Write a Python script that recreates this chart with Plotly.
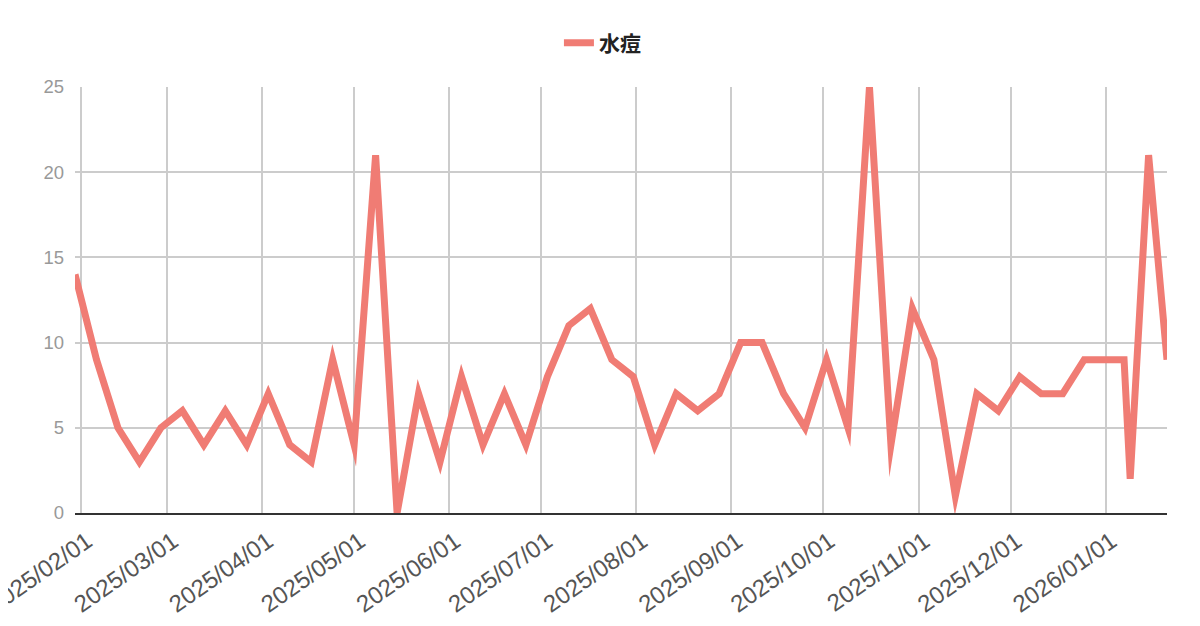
import plotly.graph_objects as go

# weekly report dates (mostly Thursdays) and case counts
dates = [
    "2025-01-30", "2025-02-06", "2025-02-13", "2025-02-20", "2025-02-27",
    "2025-03-06", "2025-03-13", "2025-03-20", "2025-03-27", "2025-04-03",
    "2025-04-10", "2025-04-17", "2025-04-24", "2025-05-01", "2025-05-08",
    "2025-05-15", "2025-05-22", "2025-05-29", "2025-06-05", "2025-06-12",
    "2025-06-19", "2025-06-26", "2025-07-03", "2025-07-10", "2025-07-17",
    "2025-07-24", "2025-07-31", "2025-08-07", "2025-08-14", "2025-08-21",
    "2025-08-28", "2025-09-04", "2025-09-11", "2025-09-18", "2025-09-25",
    "2025-10-02", "2025-10-09", "2025-10-16", "2025-10-23", "2025-10-30",
    "2025-11-06", "2025-11-13", "2025-11-20", "2025-11-27", "2025-12-04",
    "2025-12-11", "2025-12-18", "2025-12-25", "2026-01-01", "2026-01-07",
    "2026-01-09", "2026-01-15", "2026-01-21",
]
cases = [
    14, 9, 5, 3, 5,
    6, 4, 6, 4, 7,
    4, 3, 9, 4, 21,
    0, 7, 3, 8, 4,
    7, 4, 8, 11, 12,
    9, 8, 4, 7, 6,
    7, 10, 10, 7, 5,
    9, 5, 25, 4, 12,
    9, 1, 7, 6, 8,
    7, 7, 9, 9, 9,
    2, 21, 9,
]
series_name = "水痘"

tick_dates = [
    "2025-02-01", "2025-03-01", "2025-04-01", "2025-05-01", "2025-06-01",
    "2025-07-01", "2025-08-01", "2025-09-01", "2025-10-01", "2025-11-01",
    "2025-12-01", "2026-01-01",
]
tick_labels = [d.replace("-", "/") for d in tick_dates]
y_ticks = [0, 5, 10, 15, 20, 25]

LINE = "rgb(240,124,116)"
GRID = "rgb(204,204,204)"

fig = go.Figure()
fig.add_trace(go.Scatter(
    x=dates,
    y=cases,
    mode="lines",
    name=series_name,
    line=dict(color=LINE, width=7),
))

# the page body keeps its default 8px margin, so margins are shifted by that much
fig.update_layout(
    width=1200,
    height=626,
    margin=dict(l=67, r=41, t=79, b=121),
    plot_bgcolor="white",
    paper_bgcolor="white",
    font=dict(family="Liberation Sans, Arial, Noto Sans CJK JP", size=17, color="#666"),
    showlegend=True,
    legend=dict(
        orientation="h",
        x=0.483, xanchor="center",
        y=1.103, yanchor="middle",
        font=dict(family="Noto Sans CJK JP", size=21, color="#222", weight="bold"),
    ),
    xaxis=dict(
        type="date",
        range=[dates[0], dates[-1]],
        tickvals=tick_dates,
        ticktext=tick_labels,
        tickangle=-35,
        automargin=False,
        ticklabeloverflow="allow",
        ticklabelshift=6,
        ticklabelstandoff=3,
        showgrid=True,
        gridcolor=GRID,
        gridwidth=1.5,
        showline=True,
        linecolor="#333",
        linewidth=2,
        ticks="",
        tickfont=dict(size=24, color="#555"),
        zeroline=False,
    ),
    yaxis=dict(
        range=[0, 25],
        tickvals=y_ticks,
        automargin=False,
        showgrid=True,
        gridcolor=GRID,
        gridwidth=1.5,
        zeroline=False,
        ticks="",
        ticklabelstandoff=10,
        tickfont=dict(size=18.5, color="#999"),
    ),
)

# canvas-style miter limit so the sharp peaks come to a point like the original
post = """
var gd = document.getElementById('{plot_id}');
function ml() {
  gd.querySelectorAll('.scatterlayer path.js-line').forEach(function (p) {
    p.style.strokeMiterlimit = '10';
  });
}
ml();
gd.on('plotly_afterplot', ml);
setTimeout(ml, 50);
"""

fig.write_html("out.html", post_script=post)
